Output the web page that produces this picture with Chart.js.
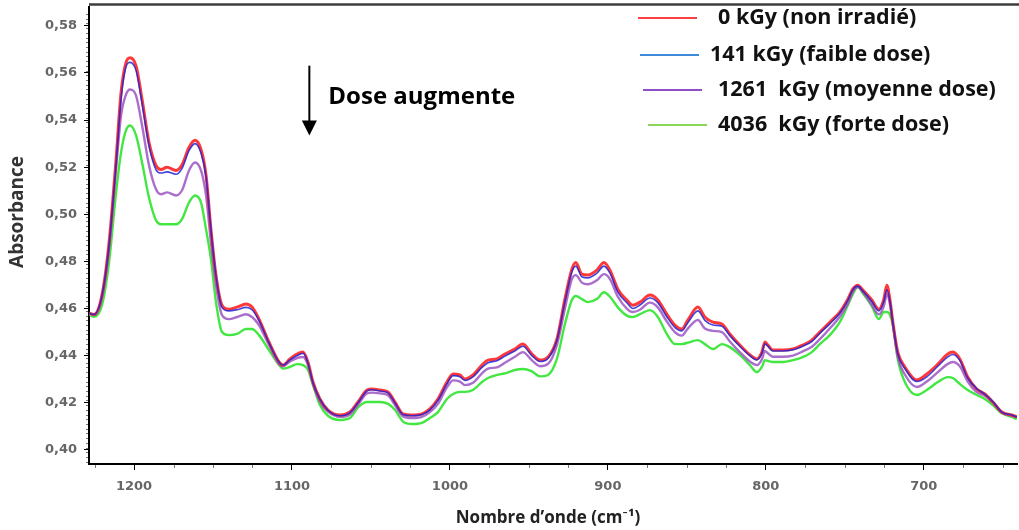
<!DOCTYPE html>
<html>
<head>
<meta charset="utf-8">
<title>Spectres IR - dose</title>
<script src="https://cdn.jsdelivr.net/npm/chart.js@4.4.0/dist/chart.umd.min.js"></script>
<style>
    html, body { margin: 0; padding: 0; background: #fff; }
    #wrap { width: 1019px; height: 530px; }
</style>
</head>
<body>
<div id="wrap"><canvas id="spectreChart" width="1019" height="530"></canvas></div>
<script>
// Nombres d'onde (cm-1)
const nombresOnde = [
    1228.5, 1225.3, 1220.3, 1215.8, 1211.4, 1208.2, 1205.1, 1202.5, 1198.7, 1194.9,
    1190.5, 1186.1, 1182.9, 1179.1, 1173.4, 1169.6, 1165.2, 1161.4, 1157.6, 1154.4,
    1151.3, 1148.1, 1144.3, 1139.9, 1134.8, 1129.1, 1125.3, 1120.9, 1114.6, 1108.2,
    1105.7, 1101.3, 1096.8, 1093.0, 1089.9, 1086.7, 1082.3, 1077.2, 1069.6, 1063.3,
    1058.2, 1052.5, 1049.4, 1044.3, 1039.2, 1034.8, 1029.7, 1024.1, 1017.7, 1012.7,
    1007.6, 1001.9, 998.0, 993.7,
    990.5, 985.4, 979.7, 975.9, 970.3, 965.2, 958.9, 953.8, 948.1, 943.0,
    937.9, 932.3, 927.2, 922.8, 920.3, 916.5, 912.7, 907.0, 902.5, 898.7,
    893.7, 888.0, 884.2, 879.7,
    873.4, 868.4, 862.7, 857.6, 853.2, 849.4, 843.0, 838.6, 833.5, 827.8,
    822.8, 816.5, 810.1, 805.7, 802.5, 800.6, 798.7, 795.6, 789.2, 782.9,
    776.6, 770.9, 765.8,
    759.5, 753.2, 748.1, 745.0, 741.8, 738.6, 732.9, 728.5, 725.3, 723.4,
    721.5, 719.6, 716.5, 712.0, 704.4, 698.1, 691.1, 684.8, 681.6, 677.2,
    672.2, 666.5, 661.4, 656.3, 650.6, 644.3, 641.1
];

// 0 kGy (non irradié)
const abs0 = [
    .4580, .4575, .4657, .4880, .5230, .5517, .5644, .5665, .5630, .5487,
    .5305, .5208, .5190, .5200, .5186, .5210, .5284, .5314, .5275, .5165,
    .4936, .4740, .4614, .4597, .4606, .4619, .4606, .4555, .4458, .4373,
    .4360, .4386, .4407, .4415, .4373, .4288, .4216, .4169, .4148, .4161,
    .4203, .4254, .4258, .4254, .4246, .4203, .4153, .4148, .4153, .4174,
    .4216, .4288, .4322, .4318,
    .4301, .4318, .4360, .4381, .4386, .4407, .4428, .4449, .4407, .4381,
    .4394, .4470, .4640, .4767, .4795, .4746, .4742, .4763, .4795, .4763,
    .4682, .4636, .4614, .4627,
    .4657, .4636, .4576, .4530, .4513, .4551, .4606, .4564, .4542, .4534,
    .4492, .4445, .4403, .4386, .4415, .4458, .4445, .4424, .4424, .4428,
    .4445, .4466, .4500,
    .4542, .4585, .4640, .4682, .4699, .4678, .4636, .4597, .4640, .4699,
    .4640, .4542, .4415, .4352, .4297, .4322, .4364, .4407, .4415, .4386,
    .4309, .4258, .4237, .4203, .4161, .4148, .4140
];

// 141 kGy (faible dose)
const abs141 = [
    .4580, .4575, .4655, .4870, .5210, .5490, .5625, .5645, .5610, .5470,
    .5290, .5190, .5175, .5180, .5170, .5195, .5270, .5300, .5260, .5160,
    .4935, .4740, .4605, .4590, .4595, .4605, .4595, .4550, .4455, .4373,
    .4360, .4382, .4400, .4410, .4370, .4285, .4215, .4168, .4145, .4158,
    .4200, .4250, .4255, .4250, .4242, .4200, .4150, .4145, .4150, .4170,
    .4210, .4280, .4315, .4310,
    .4295, .4310, .4350, .4370, .4378, .4398, .4420, .4440, .4400, .4375,
    .4388, .4465, .4630, .4755, .4780, .4735, .4730, .4750, .4780, .4750,
    .4670, .4625, .4600, .4615,
    .4645, .4625, .4565, .4520, .4505, .4540, .4590, .4550, .4530, .4525,
    .4485, .4440, .4400, .4382, .4410, .4450, .4440, .4420, .4420, .4425,
    .4440, .4460, .4495,
    .4535, .4580, .4635, .4680, .4695, .4675, .4630, .4590, .4630, .4680,
    .4635, .4540, .4410, .4345, .4290, .4310, .4355, .4395, .4405, .4380,
    .4305, .4260, .4237, .4205, .4160, .4148, .4140
];

// 1261 kGy (moyenne dose)
const abs1261 = [
    .4580, .4572, .4643, .4852, .5190, .5420, .5508, .5530, .5504, .5377,
    .5208, .5106, .5085, .5093, .5080, .5102, .5186, .5220, .5186, .5080,
    .4881, .4700, .4572, .4555, .4564, .4576, .4564, .4530, .4445, .4364,
    .4355, .4375, .4390, .4394, .4360, .4280, .4205, .4162, .4140, .4150,
    .4192, .4240, .4243, .4240, .4232, .4190, .4142, .4135, .4140, .4160,
    .4195, .4265, .4295, .4290,
    .4275, .4285, .4325, .4345, .4350, .4370, .4395, .4415, .4380, .4355,
    .4365, .4445, .4600, .4725, .4742, .4710, .4703, .4720, .4746, .4725,
    .4650, .4600, .4585, .4595,
    .4625, .4605, .4545, .4500, .4485, .4515, .4551, .4515, .4505, .4500,
    .4460, .4415, .4375, .4360, .4385, .4420, .4410, .4395, .4395, .4400,
    .4418, .4438, .4470,
    .4515, .4565, .4620, .4670, .4691, .4670, .4615, .4575, .4610, .4661,
    .4620, .4535, .4395, .4320, .4267, .4290, .4330, .4365, .4373, .4355,
    .4290, .4245, .4230, .4200, .4158, .4145, .4138
];

// 4036 kGy (forte dose)
const abs4036 = [
    .4575, .4565, .4614, .4797, .5090, .5263, .5356, .5377, .5335, .5220,
    .5070, .4975, .4958, .4958, .4958, .4980, .5050, .5080, .5050, .4936,
    .4810, .4627, .4500, .4487, .4492, .4513, .4513, .4487, .4424, .4360,
    .4345, .4352, .4364, .4360, .4340, .4275, .4190, .4145, .4127, .4135,
    .4180, .4203, .4203, .4203, .4195, .4170, .4120, .4110, .4115, .4135,
    .4160, .4216, .4237, .4246,
    .4246, .4254, .4288, .4305, .4318, .4325, .4339, .4343, .4333, .4312,
    .4318, .4386, .4534, .4636, .4653, .4640, .4627, .4640, .4669, .4650,
    .4605, .4570, .4564, .4576,
    .4593, .4564, .4492, .4449, .4449, .4455, .4466, .4449, .4428, .4449,
    .4436, .4403, .4360, .4330, .4352, .4381, .4378, .4373, .4373, .4381,
    .4394, .4415, .4449,
    .4487, .4542, .4614, .4660, .4691, .4665, .4610, .4555, .4585, .4585,
    .4575, .4530, .4386, .4288, .4233, .4254, .4288, .4309, .4305, .4280,
    .4254, .4233, .4216, .4190, .4155, .4140, .4131
];

const libelles = [
    '0 kGy (non irradié)',
    '141 kGy (faible dose)',
    '1261  kGy (moyenne dose)',
    '4036  kGy (forte dose)'
];

// Graduations des axes
const ticksX = [1200, 1100, 1000, 900, 800, 700];
const ticksY = [0.40, 0.42, 0.44, 0.46, 0.48, 0.50, 0.52, 0.54, 0.56, 0.58];

// Couleurs des courbes et de la légende
const couleursCourbes = ['rgba(255,35,35,0.9)', 'rgba(35,35,215,0.85)', 'rgba(155,85,195,0.85)', 'rgba(45,228,45,0.9)'];
const couleursLegende = ['#ff4040', '#3f8ad8', '#8f4fc8', '#8ad55a'];

const POLICE_TITRE = '"Open Sans", Lato, sans-serif';
const POLICE_TICKS = '"DejaVu Sans", sans-serif';

function serie(valeurs) {
    return nombresOnde.map((x, i) => ({ x: x, y: valeurs[i] }));
}

// Légende, flèche et titres dessinés par-dessus le graphique
const decorPlugin = {
    id: 'decor',
    afterDraw(chart) {
        const ctx = chart.ctx;
        const area = chart.chartArea;
        const xs = chart.scales.x;
        const ys = chart.scales.y;
        ctx.save();

        // cadre du haut
        ctx.strokeStyle = '#3c3c3c';
        ctx.lineWidth = 2.5;
        ctx.beginPath();
        ctx.moveTo(area.left, 4.5);
        ctx.lineTo(chart.width, 4.5);
        ctx.stroke();

        // petites graduations
        ctx.strokeStyle = '#777';
        ctx.lineWidth = 1;
        ctx.beginPath();
        for (let v = 650; v <= 1225; v += 25) {
            if (v % 100 === 0) continue;
            const px = Math.round(xs.getPixelForValue(v)) + 0.5;
            ctx.moveTo(px, area.bottom + 1);
            ctx.lineTo(px, area.bottom + 4);
        }
        for (let k = 0; k <= 95; k++) {
            const v = 0.395 + k * 0.002;
            if (v > 0.587) break;
            const py = Math.round(ys.getPixelForValue(v)) + 0.5;
            ctx.moveTo(area.left - 3, py);
            ctx.lineTo(area.left - 1, py);
        }
        ctx.stroke();

        // légende
        const lignes = [
            { x1: 638, x2: 697, tx: 718, y: 18 },
            { x1: 640, x2: 699, tx: 710, y: 55 },
            { x1: 643, x2: 702, tx: 718, y: 90 },
            { x1: 648, x2: 707, tx: 718, y: 125 }
        ];
        ctx.font = 'bold 21.5px ' + POLICE_TITRE;
        ctx.textBaseline = 'middle';
        ctx.textAlign = 'left';
        lignes.forEach((l, i) => {
            ctx.strokeStyle = couleursLegende[i];
            ctx.lineWidth = 2;
            ctx.beginPath();
            ctx.moveTo(l.x1, l.y);
            ctx.lineTo(l.x2, l.y);
            ctx.stroke();
            ctx.fillStyle = '#111';
            ctx.fillText(libelles[i], l.tx, l.y);
        });

        // flèche "Dose augmente"
        const fx = xs.getPixelForValue(1089);
        const fy1 = ys.getPixelForValue(0.5631);
        const fy2 = ys.getPixelForValue(0.5335);
        ctx.strokeStyle = '#000';
        ctx.fillStyle = '#000';
        ctx.lineWidth = 2;
        ctx.beginPath();
        ctx.moveTo(fx, fy1);
        ctx.lineTo(fx, fy2 - 12);
        ctx.stroke();
        ctx.beginPath();
        ctx.moveTo(fx - 7.5, fy2 - 15);
        ctx.lineTo(fx + 7.5, fy2 - 15);
        ctx.lineTo(fx, fy2);
        ctx.closePath();
        ctx.fill();
        ctx.font = 'bold 24px ' + POLICE_TITRE;
        ctx.fillText('Dose augmente', fx + 19, (fy1 + fy2) / 2 - 3);

        // titres des axes
        ctx.fillStyle = '#222';
        ctx.font = 'bold 17px ' + POLICE_TITRE;
        ctx.textAlign = 'center';
        ctx.fillText('Nombre d\u2019onde (cm\u207B\u00B9)', 548, 518);
        ctx.translate(18, 212);
        ctx.rotate(-Math.PI / 2);
        ctx.fillStyle = '#333';
        ctx.font = 'bold 19px ' + POLICE_TITRE;
        ctx.fillText('Absorbance', 0, 0);
        ctx.restore();
    }
};

document.addEventListener('DOMContentLoaded', function() {
    const ctx = document.getElementById('spectreChart').getContext('2d');
    new Chart(ctx, {
        type: 'line',
        data: {
            datasets: [
                { label: libelles[0], data: serie(abs0), borderColor: couleursCourbes[0], borderWidth: 3, order: 1 },
                { label: libelles[1], data: serie(abs141), borderColor: couleursCourbes[1], borderWidth: 1.6, order: 0 },
                { label: libelles[2], data: serie(abs1261), borderColor: couleursCourbes[2], borderWidth: 2.4, order: 2 },
                { label: libelles[3], data: serie(abs4036), borderColor: couleursCourbes[3], borderWidth: 2.4, order: 3 }
            ]
        },
        options: {
            responsive: false,
            animation: false,
            devicePixelRatio: 1,
            layout: { padding: { top: 7, right: 2, left: 0, bottom: 0 } },
            elements: {
                point: { radius: 0 },
                line: { cubicInterpolationMode: 'monotone', fill: false }
            },
            plugins: {
                legend: { display: false },
                tooltip: { enabled: false }
            },
            scales: {
                x: {
                    type: 'linear',
                    reverse: true,
                    min: 641,
                    max: 1228.5,
                    afterBuildTicks: s => { s.ticks = ticksX.map(v => ({ value: v })); },
                    afterFit: s => { s.height = 66; s.paddingLeft = 0; s.paddingRight = 0; },
                    grid: { drawOnChartArea: false, tickLength: 6, color: '#000' },
                    border: { color: '#000', width: 2 },
                    ticks: {
                        padding: 9,
                        maxRotation: 0,
                        autoSkip: false,
                        color: '#666',
                        font: { family: POLICE_TICKS, size: 13, weight: 'bold' },
                        callback: v => String(v)
                    }
                },
                y: {
                    min: 0.394,
                    max: 0.588,
                    afterBuildTicks: s => { s.ticks = ticksY.map(v => ({ value: v })); },
                    afterFit: s => { s.width = 89; s.paddingTop = 0; s.paddingBottom = 0; },
                    grid: { drawOnChartArea: false, tickLength: 5, color: '#000' },
                    border: { color: '#000', width: 2 },
                    ticks: {
                        padding: 7,
                        color: '#666',
                        font: { family: POLICE_TICKS, size: 13, weight: 'bold' },
                        callback: v => v.toFixed(2).replace('.', ',')
                    }
                }
            }
        },
        plugins: [decorPlugin]
    });
});
</script>
</body>
</html>
